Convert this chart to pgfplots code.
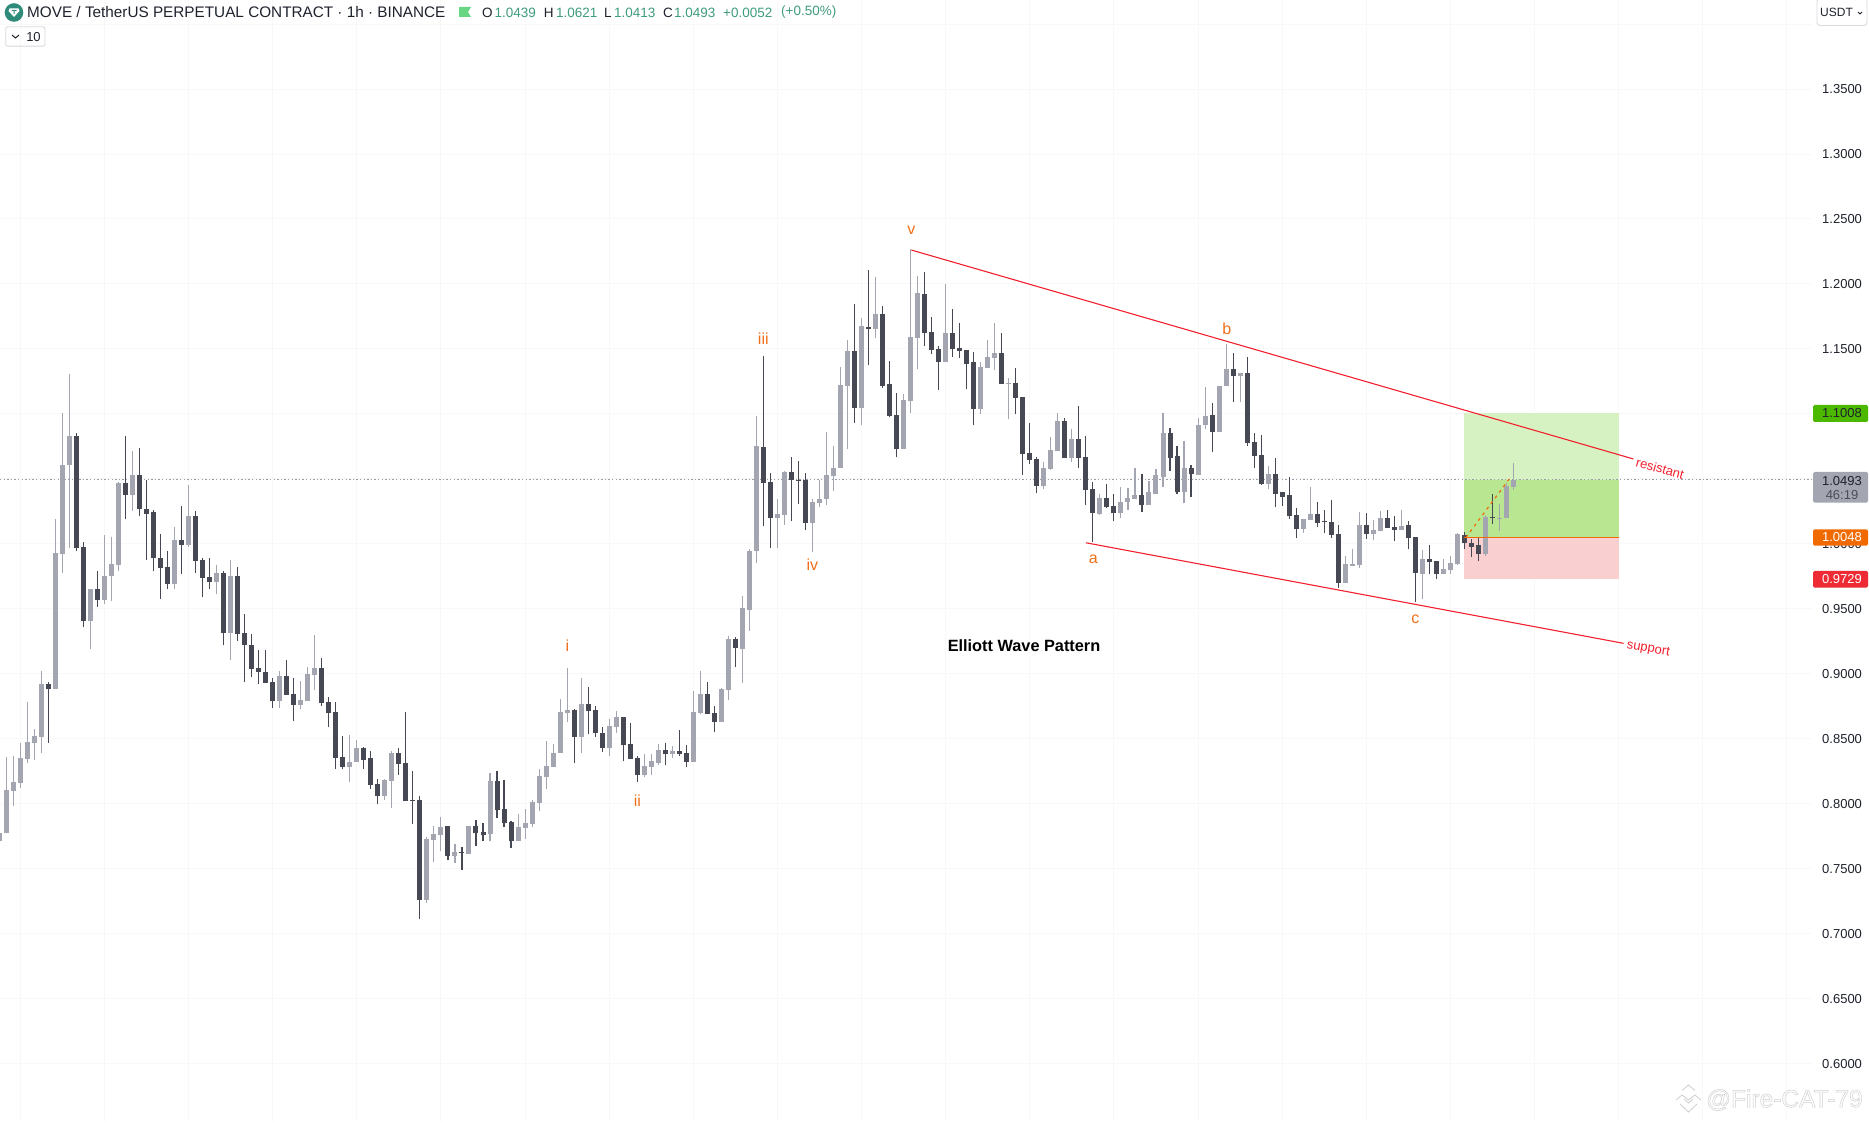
\documentclass[border=0pt]{standalone}
\usepackage{fontspec}
\setmainfont{Liberation Sans}
\usepackage{pgfplots}
\usepackage{pgfplotstable}
\pgfplotsset{compat=1.18}
\definecolor{cUp}{HTML}{A3A5B0}
\definecolor{cDn}{HTML}{464854}
\definecolor{cGrid}{HTML}{F8F8F9}
\definecolor{cWave}{HTML}{F0701A}
\definecolor{cRed}{HTML}{F2202E}
\definecolor{cTeal}{HTML}{3F9C7E}
\definecolor{cInk}{HTML}{1E222D}
\definecolor{cDot}{HTML}{9A9CA8}
\definecolor{cBox1}{HTML}{D7F2C2}
\definecolor{cBox2}{HTML}{B9E690}
\definecolor{cBox3}{HTML}{F9CFCF}
\definecolor{cOrange}{HTML}{F06A00}
\definecolor{cLogo}{HTML}{2E8B7A}
\definecolor{cBtn}{HTML}{D8DADF}
\definecolor{cMark}{HTML}{CFCFD3}
\pgfplotstableread{
i O H L C
-1 0.7715 0.7774 0.7715 0.7774
0 0.7774 0.8359 0.7774 0.8106
1 0.8097 0.8365 0.7982 0.8165
2 0.8159 0.8465 0.8121 0.8350
3 0.8344 0.8779 0.8312 0.8474
4 0.8465 0.8574 0.8335 0.8521
5 0.8512 0.9021 0.8388 0.8921
6 0.8918 0.8935 0.8465 0.8879
7 0.8879 1.0194 0.8879 0.9932
8 0.9918 1.1003 0.9774 1.0609
9 1.0603 1.1309 0.9965 1.0832
10 1.0832 1.0853 0.9944 0.9965
11 0.9974 1.0015 0.9356 0.9403
12 0.9403 0.9650 0.9188 0.9650
13 0.9650 0.9788 0.9512 0.9565
14 0.9565 1.0065 0.9535 0.9756
15 0.9750 1.0056 0.9556 0.9841
16 0.9835 1.0476 0.9794 1.0465
17 1.0471 1.0832 1.0188 1.0379
18 1.0379 1.0718 1.0256 1.0532
19 1.0532 1.0741 1.0212 1.0265
20 1.0271 1.0488 0.9874 1.0232
21 1.0241 1.0262 0.9788 0.9888
22 0.9894 1.0079 0.9574 0.9812
23 0.9818 0.9941 0.9656 0.9688
24 0.9688 1.0126 0.9650 1.0032
25 1.0032 1.0288 0.9765 0.9994
26 0.9994 1.0456 0.9974 1.0212
27 1.0212 1.0256 0.9779 0.9865
28 0.9874 0.9891 0.9588 0.9735
29 0.9741 0.9894 0.9656 0.9703
30 0.9703 0.9835 0.9612 0.9774
31 0.9779 0.9788 0.9218 0.9312
32 0.9312 0.9874 0.9103 0.9756
33 0.9756 0.9818 0.9253 0.9303
34 0.9312 0.9456 0.8935 0.9218
35 0.9218 0.9303 0.8974 0.9035
36 0.9041 0.9179 0.8921 0.9012
37 0.9012 0.9179 0.8926 0.8926
38 0.8935 0.8965 0.8735 0.8788
39 0.8788 0.9024 0.8735 0.8979
40 0.8979 0.9103 0.8835 0.8835
41 0.8841 0.8965 0.8635 0.8759
42 0.8759 0.8941 0.8726 0.8797
43 0.8788 0.9050 0.8788 0.8997
44 0.8988 0.9297 0.8874 0.9041
45 0.9041 0.9118 0.8750 0.8774
46 0.8779 0.8824 0.8588 0.8697
47 0.8703 0.8779 0.8265 0.8350
48 0.8359 0.8521 0.8265 0.8282
49 0.8282 0.8526 0.8165 0.8321
50 0.8321 0.8488 0.8321 0.8426
51 0.8426 0.8435 0.8265 0.8335
52 0.8350 0.8403 0.8112 0.8144
53 0.8150 0.8188 0.7997 0.8059
54 0.8059 0.8188 0.8026 0.8182
55 0.8174 0.8403 0.7965 0.8388
56 0.8388 0.8426 0.8221 0.8303
57 0.8312 0.8703 0.8021 0.8021
58 0.8026 0.8250 0.7844 0.8021
59 0.8026 0.8059 0.7109 0.7259
60 0.7259 0.7746 0.7233 0.7726
61 0.7718 0.7826 0.7549 0.7764
62 0.7756 0.7895 0.7633 0.7818
63 0.7826 0.7826 0.7564 0.7595
64 0.7595 0.7687 0.7541 0.7626
65 0.7626 0.7664 0.7487 0.7618
66 0.7610 0.7826 0.7610 0.7826
67 0.7826 0.7872 0.7672 0.7772
68 0.7779 0.7849 0.7710 0.7756
69 0.7764 0.8233 0.7710 0.8172
70 0.8172 0.8249 0.7887 0.7949
71 0.7956 0.8179 0.7818 0.7849
72 0.7856 0.7864 0.7656 0.7710
73 0.7710 0.7918 0.7710 0.7818
74 0.7810 0.7956 0.7726 0.7849
75 0.7841 0.8026 0.7818 0.8010
76 0.8003 0.8264 0.7941 0.8210
77 0.8203 0.8479 0.8110 0.8287
78 0.8279 0.8456 0.8279 0.8387
79 0.8387 0.8803 0.8387 0.8703
80 0.8695 0.9041 0.8626 0.8718
81 0.8718 0.8726 0.8310 0.8510
82 0.8510 0.8964 0.8387 0.8764
83 0.8764 0.8895 0.8533 0.8710
84 0.8718 0.8749 0.8510 0.8541
85 0.8541 0.8587 0.8395 0.8426
86 0.8426 0.8649 0.8364 0.8595
87 0.8587 0.8710 0.8541 0.8664
88 0.8664 0.8664 0.8326 0.8449
89 0.8456 0.8618 0.8341 0.8341
90 0.8349 0.8364 0.8164 0.8218
91 0.8218 0.8379 0.8203 0.8287
92 0.8279 0.8379 0.8218 0.8326
93 0.8310 0.8456 0.8295 0.8410
94 0.8410 0.8464 0.8295 0.8379
95 0.8379 0.8441 0.8349 0.8403
96 0.8403 0.8564 0.8364 0.8379
97 0.8387 0.8449 0.8279 0.8318
98 0.8318 0.8864 0.8318 0.8703
99 0.8695 0.9018 0.8687 0.8841
100 0.8841 0.8933 0.8687 0.8687
101 0.8695 0.8749 0.8549 0.8626
102 0.8626 0.8887 0.8626 0.8879
103 0.8872 0.9287 0.8795 0.9264
104 0.9264 0.9279 0.9049 0.9195
105 0.9187 0.9598 0.8926 0.9506
106 0.9490 0.9960 0.9331 0.9945
107 0.9946 1.0984 0.9851 1.0751
108 1.0743 1.1443 1.0135 1.0469
109 1.0474 1.0543 0.9966 1.0197
110 1.0197 1.0343 0.9966 1.0228
111 1.0220 1.0559 1.0143 1.0551
112 1.0551 1.0666 1.0174 1.0492
113 1.0494 1.0635 1.0305 1.0484
114 1.0489 1.0543 1.0105 1.0159
115 1.0159 1.0343 0.9935 1.0318
116 1.0312 1.0489 1.0282 1.0348
117 1.0343 1.0859 1.0297 1.0528
118 1.0520 1.0751 1.0405 1.0582
119 1.0582 1.1359 1.0582 1.1220
120 1.1212 1.1566 1.0728 1.1482
121 1.1482 1.1843 1.0928 1.1043
122 1.1043 1.1735 1.0912 1.1674
123 1.1666 1.2105 1.1374 1.1651
124 1.1651 1.2051 1.1582 1.1766
125 1.1766 1.1828 1.1197 1.1212
126 1.1228 1.1405 1.0974 1.0982
127 1.0989 1.1159 1.0666 1.0728
128 1.0728 1.1151 1.0728 1.1105
129 1.1097 1.2266 1.1005 1.1589
130 1.1582 1.2059 1.1343 1.1928
131 1.1920 1.2089 1.1520 1.1620
132 1.1628 1.1743 1.1459 1.1489
133 1.1497 1.1520 1.1182 1.1397
134 1.1397 1.1997 1.1397 1.1620
135 1.1620 1.1805 1.1435 1.1497
136 1.1505 1.1697 1.1428 1.1482
137 1.1489 1.1489 1.1189 1.1382
138 1.1397 1.1474 1.0912 1.1035
139 1.1035 1.1397 1.0997 1.1359
140 1.1351 1.1566 1.1351 1.1435
141 1.1428 1.1697 1.1335 1.1466
142 1.1466 1.1620 1.1228 1.1228
143 1.1228 1.1274 1.0959 1.1235
144 1.1235 1.1351 1.0997 1.1120
145 1.1128 1.1128 1.0528 1.0689
146 1.0697 1.0928 1.0612 1.0643
147 1.0651 1.0666 1.0389 1.0443
148 1.0443 1.0628 1.0420 1.0582
149 1.0574 1.0820 1.0566 1.0720
150 1.0712 1.1005 1.0712 1.0943
151 1.0943 1.0966 1.0659 1.0659
152 1.0659 1.0882 1.0628 1.0805
153 1.0805 1.1059 1.0582 1.0659
154 1.0666 1.0828 1.0297 1.0412
155 1.0420 1.0474 1.0012 1.0235
156 1.0228 1.0382 1.0220 1.0351
157 1.0351 1.0459 1.0274 1.0282
158 1.0289 1.0382 1.0174 1.0235
159 1.0234 1.0434 1.0195 1.0318
160 1.0318 1.0426 1.0264 1.0349
161 1.0341 1.0587 1.0341 1.0372
162 1.0372 1.0541 1.0241 1.0295
163 1.0295 1.0480 1.0295 1.0395
164 1.0387 1.0572 1.0380 1.0526
165 1.0518 1.1003 1.0434 1.0849
166 1.0849 1.0895 1.0564 1.0664
167 1.0672 1.0749 1.0387 1.0395
168 1.0395 1.0795 1.0311 1.0587
169 1.0587 1.0603 1.0364 1.0534
170 1.0526 1.0972 1.0526 1.0918
171 1.0911 1.1203 1.0880 1.0980
172 1.0988 1.1080 1.0703 1.0864
173 1.0864 1.1218 1.0864 1.1218
174 1.1211 1.1534 1.1211 1.1349
175 1.1349 1.1472 1.1088 1.1295
176 1.1295 1.1318 1.1095 1.1311
177 1.1311 1.1441 1.0756 1.0772
178 1.0780 1.0849 1.0580 1.0672
179 1.0680 1.0841 1.0456 1.0464
180 1.0464 1.0595 1.0418 1.0534
181 1.0534 1.0657 1.0280 1.0387
182 1.0395 1.0395 1.0288 1.0357
183 1.0372 1.0518 1.0188 1.0211
184 1.0218 1.0272 1.0041 1.0111
185 1.0111 1.0188 1.0080 1.0188
186 1.0180 1.0441 1.0180 1.0226
187 1.0226 1.0318 1.0126 1.0157
188 1.0172 1.0264 1.0080 1.0164
189 1.0164 1.0334 1.0041 1.0064
190 1.0072 1.0141 0.9657 0.9695
191 0.9695 0.9903 0.9695 0.9841
192 0.9826 0.9957 0.9826 0.9841
193 0.9834 1.0241 0.9811 1.0141
194 1.0141 1.0234 1.0034 1.0072
195 1.0072 1.0180 1.0026 1.0103
196 1.0095 1.0249 1.0095 1.0195
197 1.0195 1.0264 1.0118 1.0118
198 1.0126 1.0211 1.0018 1.0103
199 1.0103 1.0257 1.0103 1.0134
200 1.0141 1.0172 0.9957 1.0041
201 1.0049 1.0049 0.9549 0.9772
202 0.9764 0.9949 0.9572 0.9880
203 0.9880 0.9988 0.9764 0.9857
204 0.9864 0.9864 0.9726 0.9764
205 0.9764 0.9880 0.9764 0.9803
206 0.9795 0.9903 0.9764 0.9849
207 0.9841 1.0080 0.9834 1.0072
208 1.0064 1.0088 0.9957 1.0003
209 1.0007 1.0040 0.9902 0.9979
210 0.9987 1.0041 0.9864 0.9925
211 0.9918 1.0225 0.9903 1.0210
212 1.0210 1.0387 1.0156 1.0202
213 1.0195 1.0310 1.0102 1.0202
214 1.0195 1.0469 1.0195 1.0448
215 1.0439 1.0621 1.0413 1.0493
}\candles
\newcommand{\pricetag}[5]{%
  \fill[#1,rounded corners=1.5pt] (1813,#2) rectangle (1868,#3);
  \node[text=#4,font=\fontsize{13}{15}\selectfont,inner sep=0pt] at (1842,{(#2+#3)/2}) {#5};}
\pgfplotsset{
  wick/.style={draw=none,forget plot,error bars/.cd,y dir=plus,y explicit,error mark=none,
    error bar style={draw=#1,line width=1.1pt}},
  body/.style={draw=none,forget plot,error bars/.cd,y dir=plus,y explicit,error mark=none,
    error bar style={draw=#1,line width=5pt}},
}
\begin{document}
\begin{tikzpicture}[x=1pt,y=1pt]
\path[use as bounding box,fill=white] (0,0) rectangle (1869,1122);
\begin{axis}[
  at={(0pt,0pt)},anchor=south west,
  scale only axis,width=1812pt,height=1122pt,
  xmin=-0.9,xmax=257.58,ymin=0.5550,ymax=1.41853,
  axis line style={draw=none},
  major tick length=0pt,
  xtick={2,14,...,254},xticklabels={},
  ytick={0.60,0.65,0.70,0.75,0.80,0.85,0.90,0.95,1.00,1.15,1.20,1.25,1.30,1.35},
  extra y ticks={1.05,1.10,1.40},extra y tick labels={},
  grid=major,grid style={draw=cGrid,line width=1pt},
  yticklabel pos=right,
  y tick label style={anchor=west,inner sep=0pt,xshift=10pt,text=cInk,font=\fontsize{13}{15}\selectfont,
    /pgf/number format/fixed,/pgf/number format/fixed zerofill,/pgf/number format/precision=4,
    /pgf/number format/assume math mode=true},
  unbounded coords=discard,
  filter discard warning=false,
]
% long position box
\addplot[fill=cBox1,draw=none,forget plot] coordinates {(207.9,1.0493)(230.0,1.0493)(230.0,1.1008)(207.9,1.1008)} --cycle;
\addplot[fill=cBox2,draw=none,forget plot] coordinates {(207.9,1.0048)(230.0,1.0048)(230.0,1.0493)(207.9,1.0493)} --cycle;
\addplot[fill=cBox3,draw=none,forget plot] coordinates {(207.9,0.9729)(230.0,0.9729)(230.0,1.0048)(207.9,1.0048)} --cycle;
% last price line
\addplot[forget plot,color=cDot,line width=0.9pt,dash pattern=on 1.4pt off 2.2pt] coordinates {(-0.9,1.0493)(257.58,1.0493)};
% candles
\addplot[wick=cUp] table[x=i,y=L,y error plus expr=\thisrow{H}-\thisrow{L},
  restrict expr to domain={\thisrow{C}-\thisrow{O}}{0.00001:1}] {\candles};
\addplot[wick=cDn] table[x=i,y=L,y error plus expr=\thisrow{H}-\thisrow{L},
  restrict expr to domain={\thisrow{C}-\thisrow{O}}{-1:-0.00001}] {\candles};
\addplot[body=cUp] table[x=i,y=O,y error plus expr=\thisrow{C}-\thisrow{O},
  restrict expr to domain={\thisrow{C}-\thisrow{O}}{0.00001:1}] {\candles};
\addplot[body=cDn] table[x=i,y=C,y error plus expr=\thisrow{O}-\thisrow{C},
  restrict expr to domain={\thisrow{C}-\thisrow{O}}{-1:-0.00001}] {\candles};
% box centre line and trades
\addplot[forget plot,color=cOrange,line width=1.2pt] coordinates {(207.9,1.0048)(230.0,1.0048)};
\addplot[forget plot,color=cOrange,line width=1.1pt,dash pattern=on 3pt off 4pt] coordinates {(208.2,1.0048)(214.4,1.0500)};
% channel
\addplot[forget plot,color=cRed,line width=1.1pt] coordinates {(129.1,1.2261)(232.1,1.0653)};
\addplot[forget plot,color=cRed,line width=1.1pt] coordinates {(154.0,1.0008)(230.7,0.9234)};
\end{axis}
\begin{scope}[shift={(0,1122)},y=-1pt]
% wave labels
\foreach \px/\py/\t in {911.3/230/v,763.3/338.3/iii,812.3/564.3/iv,1093.3/559/a,1226.7/328.3/b,1415.3/619/c,567.3/646/i,637.3/801/ii}
  \node[text=cWave,font=\fontsize{16}{18}\selectfont,inner sep=0pt] at (\px,\py) {\t};
\node[text=black,font=\fontsize{16.3}{18}\selectfont\bfseries,inner sep=0pt] at (1024,646) {Elliott Wave Pattern};
\node[text=cRed,font=\fontsize{13}{15}\selectfont,inner sep=0pt,rotate=-15.7] at (1660,468.3) {resistant};
\node[text=cRed,font=\fontsize{13}{15}\selectfont,inner sep=0pt,rotate=-9.7] at (1648.3,649.3) {support};
% price tags
\definecolor{tagG}{HTML}{4CB800}
\definecolor{tagR}{HTML}{EE2A35}
\pricetag{tagG}{405}{422}{cInk}{1.1008}
\fill[cUp,rounded corners=1.5pt] (1813,472) rectangle (1868,502.7);
\node[text=cInk,font=\fontsize{13}{15}\selectfont,inner sep=0pt] at (1842,481) {1.0493};
\node[text=cInk!80,font=\fontsize{13}{15}\selectfont,inner sep=0pt] at (1842,494.6) {46:19};
\pricetag{cOrange}{529.3}{545.7}{white}{1.0048}
\pricetag{tagR}{571}{587.6}{white}{0.9729}
% header
\fill[cLogo] (14,12.5) circle (9.3);
\fill[white] (9.5,8.5) -- (18.5,8.5) -- (19.5,11) -- (14,17) -- (8.5,11) -- cycle;
\fill[cLogo] (11.5,10) rectangle (16.5,11) (13.5,11) rectangle (14.5,14);
\node[anchor=west,text=cInk,font=\fontsize{15.3}{18}\selectfont,inner sep=0pt] at (27,12.5) {MOVE / TetherUS PERPETUAL CONTRACT · 1h · BINANCE};
\fill[cTeal!60!green!70] (459,7) -- (471,7) -- (468,12) -- (471,17) -- (459,17) -- cycle;
\foreach \px/\t in {482/O,543.6/H,604/L,663/C}
  \node[anchor=west,text=cInk,font=\fontsize{13.5}{15}\selectfont,inner sep=0pt] at (\px,12.5) {\t};
\foreach \px/\t in {494.5/1.0439,556/1.0621,614/1.0413,674/1.0493,723/+0.0052,781/(+0.50\%)}
  \node[anchor=west,text=cTeal,font=\fontsize{13.5}{15}\selectfont,inner sep=0pt] at (\px,12.5) {\t};
% buttons
\draw[cBtn,line width=0.9pt,rounded corners=2pt] (5.7,26.8) rectangle (45,46.2);
\draw[cInk,line width=1pt] (12,35) -- (15.5,38) -- (19,35);
\node[text=cInk,font=\fontsize{13}{15}\selectfont,inner sep=0pt] at (33.5,37) {10};
\fill[white] (1817,0) rectangle (1867,25);
\draw[cBtn,line width=0.9pt,rounded corners=3pt] (1817,-2) rectangle (1867,25.5);
\node[anchor=west,text=cInk,font=\fontsize{12}{15}\selectfont,inner sep=0pt] at (1820,12.5) {USDT};
\draw[cInk,line width=0.9pt] (1858,12) -- (1860,14) -- (1862,12);
% watermark
\node[anchor=west,text=cMark,font=\fontsize{24.5}{27}\selectfont,inner sep=0pt] at (1706,1100) {\special{pdf:code 1 Tr 0.5 w}@Fire-CAT-79\special{pdf:code 0 Tr}};
\draw[cMark,line width=0.8pt] (1676,1100) -- (1682,1095) -- (1688.5,1100) -- (1695,1095) -- (1701,1100);
\draw[cMark,line width=0.8pt] (1682,1090.5) -- (1688.5,1085) -- (1695,1090.5);
\draw[cMark,line width=0.8pt] (1684,1099) -- (1688.5,1103) -- (1693,1099);
\draw[cMark,line width=0.8pt] (1680,1104) -- (1688.5,1112) -- (1697,1104);
\end{scope}
\end{tikzpicture}
\end{document}
